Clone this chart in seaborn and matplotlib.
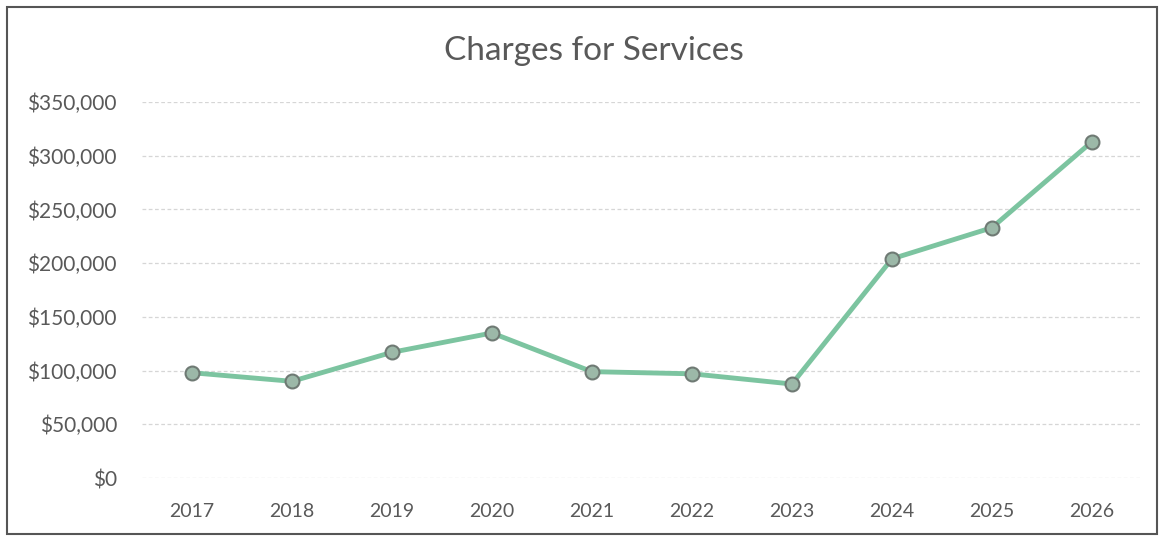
import matplotlib
matplotlib.use("Agg")
import matplotlib.pyplot as plt
import matplotlib.ticker as mticker
from matplotlib.patches import Rectangle
import seaborn as sns
import pandas as pd

years = ["2017", "2018", "2019", "2020", "2021", "2022", "2023", "2024", "2025", "2026"]
charges = [98000, 90000, 117000, 135000, 99000, 97000, 87500, 204000, 233000, 313000]

sns.set_theme(style="white")
plt.rcParams["font.family"] = ["Lato", "DejaVu Sans"]

df = pd.DataFrame({"Year": years, "Charges": charges})

fig = plt.figure(figsize=(11.64, 5.4), dpi=100)
ax = fig.add_axes([0.122, 0.1148, 0.859, 0.6963])

sns.lineplot(data=df, x="Year", y="Charges", ax=ax, sort=False,
             color="#7cc4a0", linewidth=3.5, marker="o", markersize=10,
             markerfacecolor="#9cb8a8", markeredgecolor="#6f7a74",
             markeredgewidth=1.5, zorder=3)

ax.set_xlim(-0.5, len(years) - 0.5)
ax.set_ylim(0, 350000)
ax.yaxis.set_major_locator(mticker.MultipleLocator(50000))
ax.yaxis.set_major_formatter(mticker.FuncFormatter(lambda v, _: f"${v:,.0f}"))

ax.grid(axis="y", color="#d6d6d6", linestyle=(0, (3, 2)), linewidth=0.9, zorder=0)
ax.grid(axis="x", visible=False)
for s in ax.spines.values():
    s.set_visible(False)

ax.tick_params(axis="y", length=0, labelsize=15, colors="#595959", pad=18)
ax.tick_params(axis="x", length=0, labelsize=14, colors="#595959", pad=18)
ax.set_xlabel("")
ax.set_ylabel("")

fig.text(0.51, 0.905, "Charges for Services", ha="center", va="center",
         fontsize=24, color="#595959")

fig.patches.append(Rectangle((0.006, 0.012), 0.988, 0.975, transform=fig.transFigure,
                             fill=False, edgecolor="#555555", linewidth=1.5))

fig.savefig("out.png", dpi=100, facecolor="white")
